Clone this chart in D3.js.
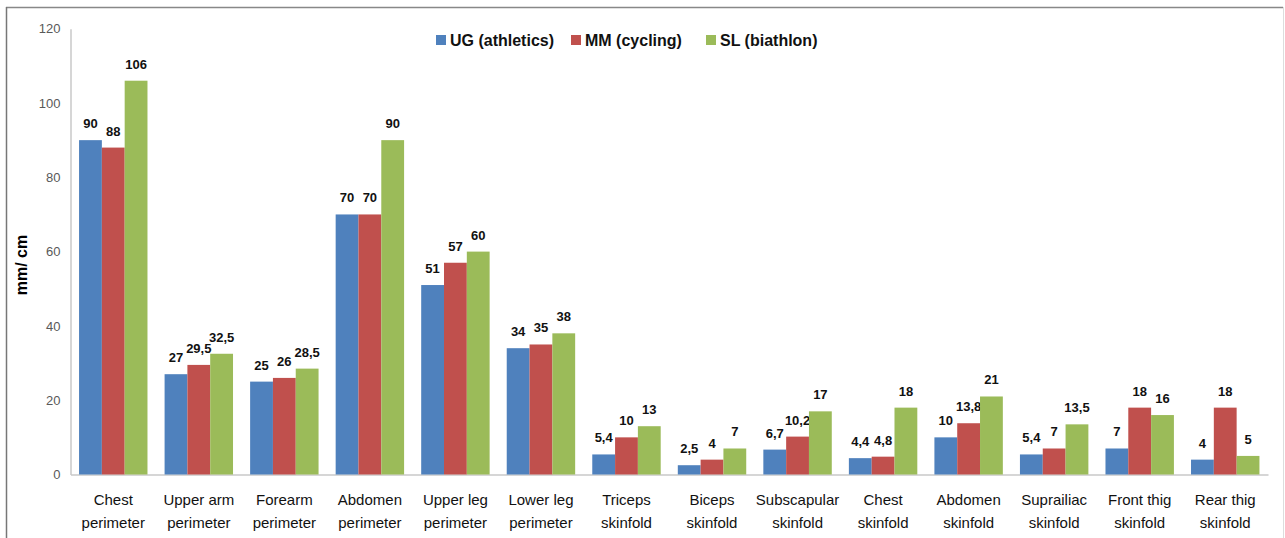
<!DOCTYPE html>
<html><head><meta charset="utf-8">
<script src="https://cdn.jsdelivr.net/npm/d3@7"></script>
<style>body{margin:0;background:#fff}svg{display:block}</style>
</head><body><svg id="c" width="1285" height="538"></svg>
<script>
const categories = [["Chest","perimeter"],["Upper arm","perimeter"],["Forearm","perimeter"],["Abdomen","perimeter"],["Upper leg","perimeter"],["Lower leg","perimeter"],["Triceps","skinfold"],["Biceps","skinfold"],["Subscapular","skinfold"],["Chest","skinfold"],["Abdomen","skinfold"],["Suprailiac","skinfold"],["Front thig","skinfold"],["Rear thig","skinfold"]];
const seriesNames = ["UG (athletics)","MM (cycling)","SL (biathlon)"];
const seriesColors = ["#4F81BD","#C0504D","#9BBB59"];
const ug = [90,27,25,70,51,34,5.4,2.5,6.7,4.4,10,5.4,7,4];
const mm = [88,29.5,26,70,57,35,10,4,10.2,4.8,13.8,7,18,18];
const sl = [106,32.5,28.5,90,60,38,13,7,17,18,21,13.5,16,5];
const yTicks = [0,20,40,60,80,100,120];
const yTitle = "mm/ cm";

const series = [ug,mm,sl];
const svg = d3.select("#c");
const font = "'Liberation Sans Narrow','Liberation Sans',Arial,sans-serif";

// outer frame
svg.append("line").attr("x1",6).attr("x2",1283).attr("y1",7.5).attr("y2",7.5).attr("stroke","#888").attr("stroke-width",1.5);
svg.append("line").attr("x1",6.5).attr("x2",6.5).attr("y1",7).attr("y2",538).attr("stroke","#777").attr("stroke-width",1.5);
svg.append("line").attr("x1",1283.5).attr("x2",1283.5).attr("y1",7).attr("y2",538).attr("stroke","#ddd").attr("stroke-width",1);

const x0 = 70.5, x1 = 1268, yBase = 474.5, yTop = 28.7;
const x = d3.scaleBand().domain(d3.range(categories.length)).range([x0,x1]).paddingInner(0.2).paddingOuter(0.1);
const xs = d3.scaleBand().domain(d3.range(3)).range([0,x.bandwidth()]);
const y = d3.scaleLinear().domain([0,120]).range([yBase,yTop]);

// y axis
const ya = svg.append("g").attr("transform",`translate(${x0},0)`).call(d3.axisLeft(y).tickValues(yTicks).tickSize(0).tickPadding(10));
ya.select(".domain").attr("stroke","#c8c8c8").attr("stroke-width",1.5);
ya.selectAll("text").attr("font-family",font).attr("font-size",13).attr("fill","#595959");

// x axis
const xa = svg.append("g").attr("transform",`translate(0,${yBase})`).call(d3.axisBottom(x).tickSize(0).tickFormat(""));
xa.select(".domain").attr("stroke","#c8c8c8").attr("stroke-width",1.5);
xa.selectAll(".tick").each(function(d){
  const t = d3.select(this).append("text").attr("fill","#111").attr("font-family",font).attr("font-size",15).attr("text-anchor","middle");
  t.append("tspan").attr("x",0).attr("y",30).text(categories[d][0]);
  t.append("tspan").attr("x",0).attr("y",53).text(categories[d][1]);
});

// bars
series.forEach((vals,si)=>{
  const g = svg.append("g");
  g.selectAll("rect").data(vals).join("rect")
    .attr("x",(v,i)=>x(i)+xs(si)).attr("width",xs.bandwidth())
    .attr("y",v=>y(v)).attr("height",v=>yBase-y(v)).attr("fill",seriesColors[si]);
  g.selectAll("text").data(vals).join("text")
    .attr("x",(v,i)=>x(i)+xs(si)+xs.bandwidth()/2).attr("y",v=>y(v)-12)
    .attr("text-anchor","middle").attr("font-family",font).attr("font-weight","bold").attr("font-size",13).attr("fill","#111")
    .text(v=>String(v).replace(".",","));
});

// y title
svg.append("text").attr("transform","translate(27,265) rotate(-90)").attr("text-anchor","middle")
  .attr("font-family",font).attr("font-weight","bold").attr("font-size",16).attr("fill","#000").text(yTitle);

// legend
const lg = svg.append("g").attr("transform","translate(0,40)");
const legX = [436,571,706];
seriesNames.forEach((n,i)=>{
  lg.append("rect").attr("x",legX[i]).attr("y",-5).attr("width",10).attr("height",10).attr("fill",seriesColors[i]);
  lg.append("text").attr("x",legX[i]+14).attr("y",5.5).attr("font-family",font).attr("font-weight","bold").attr("font-size",16).attr("fill","#111").text(n);
});
</script></body></html>
